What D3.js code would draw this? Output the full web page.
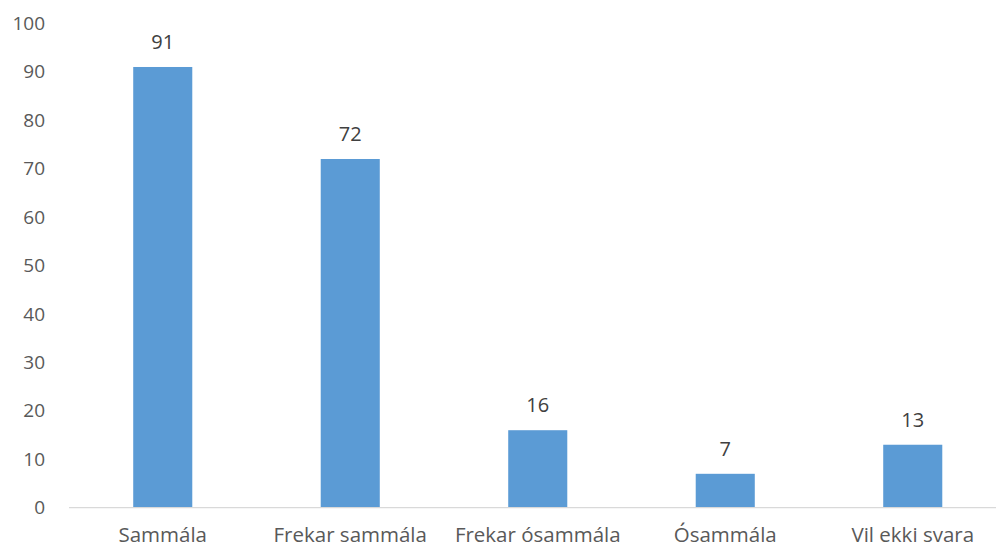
<!DOCTYPE html>
<html>
<head>
<meta charset="utf-8">
<script src="https://cdn.jsdelivr.net/npm/d3@7"></script>
<style>
  body { margin: 0; background: #fff; overflow: hidden; }
  svg { display: block; }
  text { font-family: "Open Sans", "Liberation Sans", sans-serif; }
</style>
</head>
<body>
<svg></svg>
<script>
var categories = ["Sammála", "Frekar sammála", "Frekar ósammála", "Ósammála", "Vil ekki svara"];
var values = [91, 72, 16, 7, 13];
var yTicks = [0, 10, 20, 30, 40, 50, 60, 70, 80, 90, 100];

var width = 996, height = 549;
var margins = {top: 23.4, left: 69, bottom: 41.3};

var svg = d3.select("svg")
  .attr("width", width)
  .attr("height", height);

// plot area runs past the right edge, like the cropped original
var x = d3.scaleBand()
  .domain(categories)
  .range([margins.left, 1006.5])
  .paddingInner(0.685)
  .paddingOuter(0.3425);

var y = d3.scaleLinear()
  .domain([0, 100])
  .range([height - margins.bottom, margins.top]);

// y tick labels
svg.append("g")
  .selectAll("text")
  .data(yTicks)
  .enter().append("text")
  .attr("x", 45)
  .attr("y", function(d) { return y(d); })
  .attr("dy", "0.35em")
  .attr("text-anchor", "end")
  .attr("fill", "#595959")
  .attr("font-size", 19)
  .text(function(d) { return d; });

// bars
svg.append("g")
  .selectAll("rect")
  .data(values)
  .enter().append("rect")
  .attr("x", function(d, i) { return x(categories[i]); })
  .attr("y", function(d) { return y(d); })
  .attr("width", x.bandwidth())
  .attr("height", function(d) { return y(0) - y(d); })
  .attr("fill", "#5B9BD5");

// baseline
svg.append("line")
  .attr("x1", margins.left)
  .attr("x2", width)
  .attr("y1", y(0))
  .attr("y2", y(0))
  .attr("stroke", "#D9D9D9")
  .attr("stroke-width", 1.3);

// value labels
svg.append("g")
  .selectAll("text")
  .data(values)
  .enter().append("text")
  .attr("x", function(d, i) { return x(categories[i]) + x.bandwidth() / 2; })
  .attr("y", function(d) { return y(d) - 18; })
  .attr("text-anchor", "middle")
  .attr("fill", "#404040")
  .attr("font-size", 20)
  .text(function(d) { return d; });

// category labels
svg.append("g")
  .selectAll("text")
  .data(categories)
  .enter().append("text")
  .attr("x", function(d) { return x(d) + x.bandwidth() / 2; })
  .attr("y", 542)
  .attr("text-anchor", "middle")
  .attr("fill", "#595959")
  .attr("font-size", 20.5)
  .text(function(d) { return d; });
</script>
</body>
</html>
